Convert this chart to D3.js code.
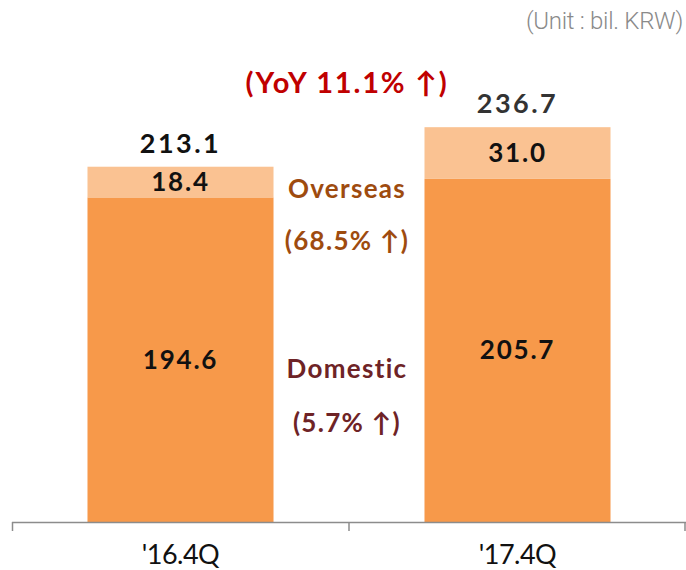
<!DOCTYPE html>
<html><head><meta charset="utf-8">
<script src="https://cdn.jsdelivr.net/npm/d3@7/dist/d3.min.js"></script>
<style>body{margin:0;background:#fff}svg{display:block}</style>
</head><body>
<svg id="c" width="686" height="570"></svg>
<script>
const categories = ["'16.4Q", "'17.4Q"];
const domestic = [194.6, 205.7];
const overseas = [18.4, 31.0];
const totals = [213.1, 236.7];
const segmentLabels = ["Overseas", "(68.5% ↑)", "Domestic", "(5.7% ↑)"];
const yoyLabel = "(YoY 11.1% ↑)";
const unitLabel = "(Unit : bil. KRW)";

const svg = d3.select("#c");
const FONT = "Lato, 'Noto Sans', sans-serif";
const x = d3.scaleBand().domain(categories).range([12, 686]).padding(0);
const y = d3.scaleLinear().domain([0, 250]).range([522, 105]);
const barW = x.bandwidth() * 0.552;
const cx = d => x(d) + x.bandwidth() / 2;

const g = svg.append("g");
g.selectAll(".dom").data(categories).join("rect")
  .attr("x", d => cx(d) - barW / 2).attr("width", barW)
  .attr("y", (d, i) => y(domestic[i])).attr("height", (d, i) => y(0) - y(domestic[i]))
  .attr("fill", "#F7994A");
g.selectAll(".ov").data(categories).join("rect")
  .attr("x", d => cx(d) - barW / 2).attr("width", barW)
  .attr("y", (d, i) => y(domestic[i] + overseas[i]))
  .attr("height", (d, i) => y(domestic[i]) - y(domestic[i] + overseas[i]))
  .attr("fill", "#FAC292");

const ax = svg.append("g");
ax.append("line").attr("x1", 12).attr("x2", 686).attr("y1", 522.5).attr("y2", 522.5)
  .attr("stroke", "#8c8c8c").attr("stroke-width", 1.5);
const bounds = categories.map(d => x(d)).concat([x(categories[categories.length - 1]) + x.bandwidth()]);
ax.selectAll(".tk").data(bounds).join("line")
  .attr("x1", d => Math.min(Math.max(d, 12.5), 685)).attr("x2", d => Math.min(Math.max(d, 12.5), 685))
  .attr("y1", 522).attr("y2", 531).attr("stroke", "#8c8c8c").attr("stroke-width", 1.5);
ax.selectAll(".lbl").data(categories).join("text")
  .attr("x", d => cx(d)).attr("y", 564).attr("text-anchor", "middle")
  .attr("font-family", FONT).attr("font-size", 27).attr("fill", "#111")
  .attr("letter-spacing", -0.5).text(d => d);

const t = (sel) => sel.attr("font-family", FONT).attr("font-weight", "bold").attr("text-anchor", "middle");
g.selectAll(".tot").data(categories).join("text").call(t)
  .attr("x", d => cx(d)).attr("y", (d, i) => y(totals[i]) - 14)
  .attr("font-size", 27).attr("fill", (d, i) => i === 0 ? "#111" : "#333").attr("letter-spacing", 2.5)
  .text((d, i) => totals[i].toFixed(1));
g.selectAll(".ovl").data(categories).join("text").call(t)
  .attr("x", d => cx(d)).attr("y", (d, i) => (y(domestic[i]) + y(domestic[i] + overseas[i])) / 2 + 9)
  .attr("font-size", 26).attr("fill", "#111").attr("letter-spacing", 1.8)
  .text((d, i) => overseas[i].toFixed(1));
g.selectAll(".dml").data(categories).join("text").call(t)
  .attr("x", d => cx(d)).attr("y", (d, i) => (y(0) + y(domestic[i])) / 2 + 9)
  .attr("font-size", 26).attr("fill", "#111").attr("letter-spacing", 1.8)
  .text((d, i) => domestic[i].toFixed(1));

const midX = 347;
const ann = [
  {text: segmentLabels[0], y: 198, c: "#9E4B0F"},
  {text: segmentLabels[1], y: 250, c: "#9E4B0F"},
  {text: segmentLabels[2], y: 378, c: "#6E2326"},
  {text: segmentLabels[3], y: 432, c: "#6E2326"}
];
svg.selectAll(".ann").data(ann).join("text").call(t)
  .attr("x", midX).attr("y", d => d.y).attr("font-size", 26).attr("fill", d => d.c)
  .attr("letter-spacing", 1.3).text(d => d.text);
svg.append("text").call(t).attr("x", 347).attr("y", 93).attr("font-size", 29)
  .attr("fill", "#C00000").attr("letter-spacing", 1.8).text(yoyLabel);
svg.append("text").attr("x", 683).attr("y", 29).attr("text-anchor", "end")
  .attr("font-family", "Roboto, sans-serif").attr("font-weight", 300).attr("font-size", 24).attr("fill", "#8a8a8a")
  .attr("letter-spacing", -0.3).text(unitLabel);
</script>
</body></html>
